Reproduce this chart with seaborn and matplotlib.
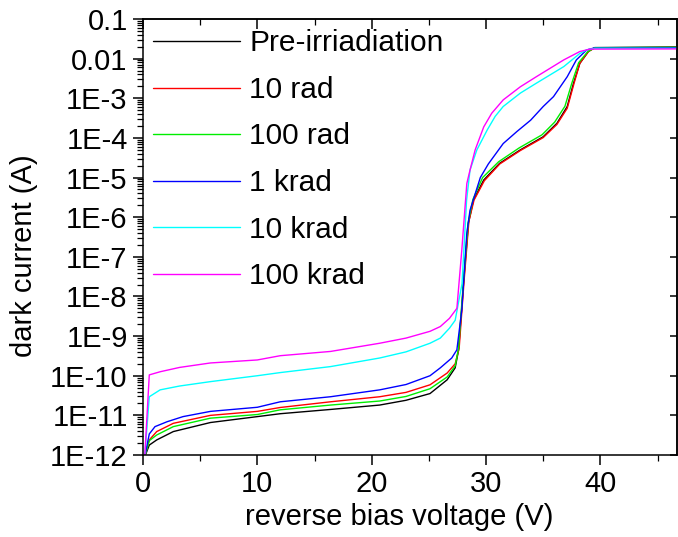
import numpy as np
import pandas as pd
import matplotlib
matplotlib.use("Agg")
import matplotlib.pyplot as plt
import matplotlib.ticker as mticker
import seaborn as sns

# ---------------- data ----------------
series_names = ["Pre-irriadiation", "10 rad", "100 rad", "1 krad", "10 krad", "100 krad"]
series_colors = ["#000000", "#ff0000", "#00ee00", "#0000ff", "#00ffff", "#ff00ff"]

v_pre = [0.15, 0.55, 1.2, 2.65, 5.9, 10, 12, 16.4, 20.7, 23, 25.1, 26.6, 27.3, 27.6, 28.03,
         28.46, 28.9, 29.8, 31.2, 33.0, 35.0, 36.2, 37.1, 37.65, 38.2, 38.95, 39.5, 46.7]
i_pre = [9e-13, 1.78e-12, 2.4e-12, 3.9e-12, 6.6e-12, 9.3e-12, 1.1e-11, 1.41e-11, 1.82e-11,
         2.4e-11, 3.55e-11, 7.9e-11, 1.58e-10, 4.5e-10, 2.1e-08, 7.1e-07, 2.7e-06, 8.7e-06,
         2.3e-05, 5.0e-05, 1.07e-04, 2.34e-04, 6.2e-04, 2.4e-03, 7.6e-03, 0.0151, 0.0190, 0.0197]

v_10rad = [0.15, 0.55, 1.2, 2.65, 5.9, 10, 12, 16.4, 20.7, 23, 25.1, 26.6, 27.3, 27.65, 28.08,
           28.5, 28.95, 29.85, 31.2, 33.0, 35.0, 36.2, 37.1, 37.7, 38.2, 38.95, 39.5, 46.7]
i_10rad = [9e-13, 2.4e-12, 3.9e-12, 6.3e-12, 1.0e-11, 1.26e-11, 1.58e-11, 2.2e-11, 2.95e-11,
           3.8e-11, 5.9e-11, 1.17e-10, 2.0e-10, 5.0e-10, 2.5e-08, 7.9e-07, 2.7e-06, 8.3e-06,
           2.2e-05, 4.8e-05, 1.02e-04, 2.19e-04, 5.6e-04, 2.4e-03, 7.6e-03, 0.0151, 0.0186, 0.0191]

v_100rad = [0.15, 0.55, 1.2, 2.65, 5.9, 10, 12, 16.4, 20.7, 23, 25.1, 26.6, 27.3, 27.6, 28.0,
            28.43, 28.85, 29.7, 31.1, 32.9, 34.9, 36.0, 36.9, 37.5, 38.1, 38.9, 39.5, 46.7]
i_100rad = [9e-13, 2.3e-12, 3.2e-12, 5.2e-12, 8.5e-12, 1.05e-11, 1.38e-11, 1.82e-11, 2.3e-11,
            3.0e-11, 4.7e-11, 9.3e-11, 1.78e-10, 5.0e-10, 2.0e-08, 7.1e-07, 2.8e-06, 1.0e-05,
            2.5e-05, 5.6e-05, 1.2e-04, 2.5e-04, 6.3e-04, 2.4e-03, 7.9e-03, 0.0151, 0.0188, 0.0193]

v_1krad = [0.15, 0.55, 1.05, 2.1, 3.5, 5.9, 10, 12, 16.4, 20.7, 23, 25.1, 26.0, 27.0, 27.45,
           27.88, 28.32, 28.6, 29.5, 30.2, 31.5, 32.7, 33.9, 35.0, 35.9, 37.1, 37.9, 38.8, 39.4, 46.7]
i_1krad = [9e-13, 3.4e-12, 5.2e-12, 6.9e-12, 9.3e-12, 1.26e-11, 1.6e-11, 2.2e-11, 2.95e-11,
           4.4e-11, 6.0e-11, 1.0e-10, 1.58e-10, 2.8e-10, 4.5e-10, 4.6e-09, 4.0e-07, 1.5e-06,
           1.0e-05, 2.2e-05, 7.2e-05, 1.45e-04, 2.8e-04, 6.2e-04, 1.1e-03, 3.5e-03, 9.3e-03,
           0.0166, 0.0184, 0.0187]

v_10krad = [0.15, 0.55, 1.5, 3.2, 5.9, 10, 12, 16.4, 20.7, 23, 25.1, 26.0, 26.8, 27.3, 27.9,
            28.3, 28.6, 29.2, 30.1, 30.8, 31.5, 33.0, 34.4, 36.8, 38.2, 38.8, 39.5, 46.7]
i_10krad = [9e-13, 2.95e-11, 4.4e-11, 5.5e-11, 7.1e-11, 1.0e-10, 1.2e-10, 1.7e-10, 2.8e-10,
            4.0e-10, 6.6e-10, 8.9e-10, 1.58e-09, 2.5e-09, 2.1e-08, 2.7e-06, 1.55e-05, 5.0e-05,
            1.58e-04, 3.5e-04, 6.2e-04, 1.35e-03, 2.4e-03, 6.3e-03, 0.0135, 0.0166, 0.0182, 0.0182]

v_100krad = [0.15, 0.55, 1.5, 3.2, 5.9, 10, 12, 16.4, 20.7, 23, 25.1, 26.0, 26.8, 27.45, 27.88,
             28.32, 28.6, 29.05, 29.8, 30.5, 31.5, 33.0, 34.4, 36.8, 38.2, 39.1, 46.7]
i_100krad = [9e-13, 1.05e-10, 1.26e-10, 1.62e-10, 2.1e-10, 2.5e-10, 3.2e-10, 4.1e-10, 6.6e-10,
             8.9e-10, 1.32e-09, 1.74e-09, 2.8e-09, 5.0e-09, 1.48e-07, 7.1e-06, 1.55e-05, 5.0e-05,
             1.9e-04, 4.2e-04, 9.1e-04, 1.95e-03, 3.5e-03, 9.3e-03, 0.0151, 0.0174, 0.0176]

series_v = [v_pre, v_10rad, v_100rad, v_1krad, v_10krad, v_100krad]
series_i = [i_pre, i_10rad, i_100rad, i_1krad, i_10krad, i_100krad]

y_tick_values = [1e-12, 1e-11, 1e-10, 1e-9, 1e-8, 1e-7, 1e-6, 1e-5, 1e-4, 1e-3, 1e-2, 1e-1]
y_tick_labels = ["1E-12", "1E-11", "1E-10", "1E-9", "1E-8", "1E-7", "1E-6", "1E-5",
                 "1E-4", "1E-3", "0.01", "0.1"]
x_major_ticks = [0, 10, 20, 30, 40]
x_minor_ticks = [5, 15, 25, 35, 45]

# ---------------- style ----------------
sns.set_style("white")
plt.rcParams["font.family"] = ["Liberation Sans", "DejaVu Sans"]
plt.rcParams["font.size"] = 21
for key in ["text.color", "axes.labelcolor", "xtick.color", "ytick.color", "axes.edgecolor"]:
    plt.rcParams[key] = "black"

W, H = 678, 537
fig = plt.figure(figsize=(W / 100, H / 100), dpi=100)
ax = fig.add_axes([143 / W, 1 - 455 / H, 534 / W, 436 / H])

for name, col, vv, ii in zip(series_names, series_colors, series_v, series_i):
    df = pd.DataFrame({"V": vv, "I": ii})
    sns.lineplot(data=df, x="V", y="I", color=col, lw=1.0, label=name,
                 sort=False, estimator=None, ax=ax)

ax.set_yscale("log")
ax.set_ylim(1e-12, 0.1)
ax.set_xlim(0, 46.7)

ax.yaxis.set_major_locator(mticker.FixedLocator(y_tick_values))
ax.yaxis.set_major_formatter(mticker.FixedFormatter(y_tick_labels))
ax.yaxis.set_minor_locator(mticker.LogLocator(base=10, subs=np.arange(2, 10), numticks=100))
ax.yaxis.set_minor_formatter(mticker.NullFormatter())
ax.xaxis.set_major_locator(mticker.FixedLocator(x_major_ticks))
ax.xaxis.set_minor_locator(mticker.FixedLocator(x_minor_ticks))

for sp in ax.spines.values():
    sp.set_visible(True)
    sp.set_color("black")
    sp.set_linewidth(1.1)

ax.tick_params(axis="both", which="major", direction="out", length=7, width=1.1,
               color="black", labelcolor="black", labelsize=21, pad=4, bottom=True, left=True)
ax.tick_params(axis="both", which="minor", direction="out", length=4, width=0.9,
               color="black", bottom=True, left=True)

# mirrored ticks pointing inward on top and right
top = ax.secondary_xaxis("top")
top.xaxis.set_major_locator(mticker.FixedLocator(x_major_ticks))
top.xaxis.set_minor_locator(mticker.FixedLocator(x_minor_ticks))
top.tick_params(which="major", direction="in", length=7, width=1.1, color="black", labeltop=False)
top.tick_params(which="minor", direction="in", length=4, width=0.9, color="black")
top.spines["top"].set_linewidth(1.1)
top.spines["top"].set_color("black")

right = ax.secondary_yaxis("right")
right.yaxis.set_major_locator(mticker.FixedLocator(y_tick_values))
right.yaxis.set_minor_locator(mticker.NullLocator())
right.tick_params(which="major", direction="in", length=5, width=1.1, color="black", labelright=False)
right.spines["right"].set_linewidth(1.1)
right.spines["right"].set_color("black")

ax.set_xlabel("reverse bias voltage (V)", fontsize=21, color="black")
ax.set_ylabel("dark current (A)", fontsize=21, color="black")
ax.xaxis.set_label_coords(0.479, -0.11)
ax.yaxis.set_label_coords(-0.197, 0.456)

leg = ax.legend(loc="upper left", frameon=False, fontsize=21.5, handlelength=2.9,
                handletextpad=0.3, labelspacing=0.62, borderaxespad=0.15, borderpad=0.2,
                labelcolor="black")
for lh in leg.get_lines():
    lh.set_linewidth(1.0)

fig.savefig("out.png", dpi=100)
